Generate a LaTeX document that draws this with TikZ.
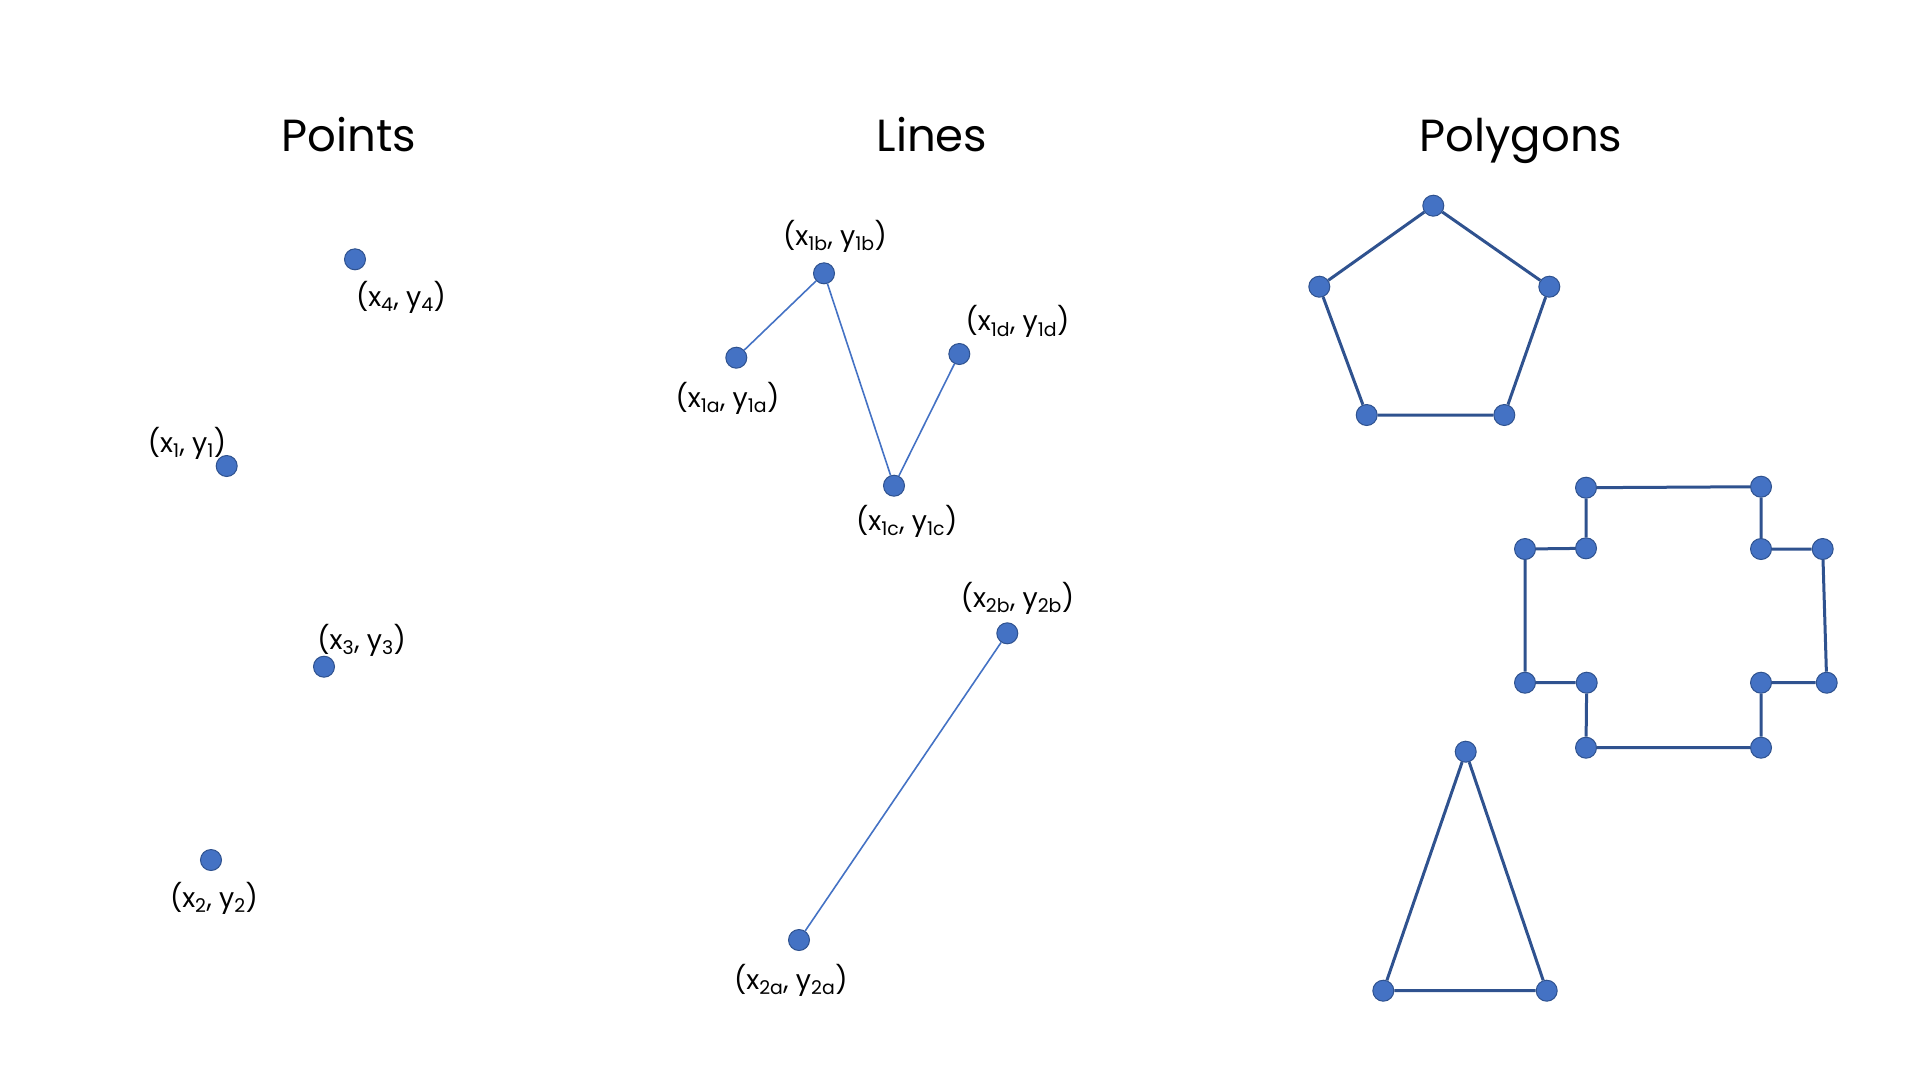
\documentclass[tikz,border=0pt]{standalone}
\usepackage{fontspec}
\setmainfont{Poppins}
\definecolor{dotfill}{HTML}{4472C4}
\definecolor{dotedge}{HTML}{2F528F}
\tikzset{
  pt/.style={circle, fill=dotfill, draw=dotedge, line width=1pt, minimum size=21pt, inner sep=0pt},
  lbl/.style={font=\fontsize{27}{32}\selectfont, inner sep=0pt, anchor=center},
  ttl/.style={font=\fontsize{45}{54}\selectfont, inner sep=0pt, anchor=base},
  thinline/.style={draw=dotfill, line width=1.6pt},
  polyline/.style={draw=dotedge, line width=3pt},
}
\begin{document}
\begin{tikzpicture}[x=1pt,y=-1pt]
\useasboundingbox (0,0) rectangle (1920,1080);
% titles
\node[ttl] (tpoints) at (349,151.7) {Points};
\node[ttl] (tlines) at (932,151.7) {Lines};
\node[ttl] (tpoly) at (1521,151.7) {Polygons};
% points
\node[pt] (p4) at (355,259.3) {};
\node[lbl] (l4) at (401,297) {(x\textsubscript{4}, y\textsubscript{4})};
\node[pt] (p1) at (226.7,466) {};
\node[lbl] (l1) at (187,443) {(x\textsubscript{1}, y\textsubscript{1})};
\node[pt] (p3) at (324,666.7) {};
\node[lbl] (l3) at (361.7,640) {(x\textsubscript{3}, y\textsubscript{3})};
\node[pt] (p2) at (211,860) {};
\node[lbl] (l2) at (214,898) {(x\textsubscript{2}, y\textsubscript{2})};
% lines
\node[pt] (a1) at (736.3,357.7) {};
\node[pt] (b1) at (824,273.3) {};
\node[pt] (c1) at (894,485.7) {};
\node[pt] (d1) at (959.3,354) {};
\draw[thinline] (a1) -- (b1) -- (c1) -- (d1);
\node[lbl] (la1) at (727.5,398) {(x\textsubscript{1a}, y\textsubscript{1a})};
\node[lbl] (lb1) at (835,236) {(x\textsubscript{1b}, y\textsubscript{1b})};
\node[lbl] (lc1) at (906.7,521.7) {(x\textsubscript{1c}, y\textsubscript{1c})};
\node[lbl] (ld1) at (1017.5,321.7) {(x\textsubscript{1d}, y\textsubscript{1d})};
\node[pt] (a2) at (799,940) {};
\node[pt] (b2) at (1007.3,633.3) {};
\draw[thinline] (a2) -- (b2);
\node[lbl] (la2) at (790.8,980) {(x\textsubscript{2a}, y\textsubscript{2a})};
\node[lbl] (lb2) at (1017.5,598) {(x\textsubscript{2b}, y\textsubscript{2b})};
% pentagon
\node[pt] (q1) at (1433.3,205.7) {};
\node[pt] (q2) at (1549.3,286.7) {};
\node[pt] (q3) at (1504.3,415) {};
\node[pt] (q4) at (1366.7,415) {};
\node[pt] (q5) at (1319.3,286.7) {};
\draw[polyline] (q1) -- (q2) -- (q3) -- (q4) -- (q5) -- (q1);
% cross
\node[pt] (c01) at (1586,487.7) {};
\node[pt] (c02) at (1761,486.7) {};
\node[pt] (c03) at (1761,549) {};
\node[pt] (c04) at (1822.7,549) {};
\node[pt] (c05) at (1826.7,682.7) {};
\node[pt] (c06) at (1761,682.7) {};
\node[pt] (c07) at (1761,747.7) {};
\node[pt] (c08) at (1586,747.7) {};
\node[pt] (c09) at (1586.7,682.7) {};
\node[pt] (c10) at (1525,682.7) {};
\node[pt] (c11) at (1525,549) {};
\node[pt] (c12) at (1586,548.3) {};
\draw[polyline] (c01) -- (c02) -- (c03) -- (c04) -- (c05) -- (c06) -- (c07) -- (c08) -- (c09) -- (c10) -- (c11) -- (c12) -- (c01);
% triangle
\node[pt] (t1) at (1465.7,751.7) {};
\node[pt] (t2) at (1546.7,990.7) {};
\node[pt] (t3) at (1383.3,990.7) {};
\draw[polyline] (t1) -- (t2) -- (t3) -- (t1);
\end{tikzpicture}
\end{document}
